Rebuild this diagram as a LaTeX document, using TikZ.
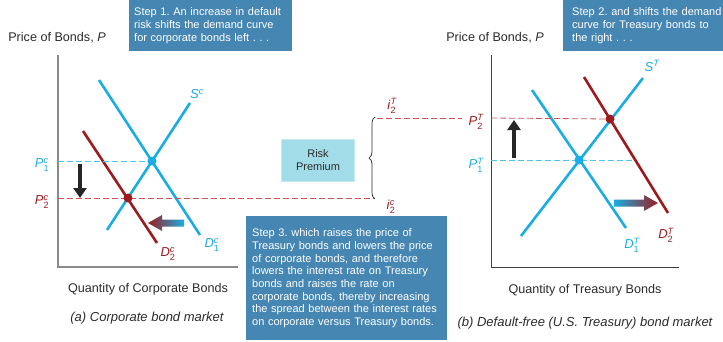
\documentclass[tikz,border=0pt]{standalone}
\usepackage{fontspec}
\setmainfont{Liberation Sans}
\usepackage{amsmath}
\usetikzlibrary{arrows.meta,positioning,decorations.pathreplacing}
\definecolor{BondCyan}   {HTML}{1AADE4}
\definecolor{BondRed}    {HTML}{9B1B1E}
\definecolor{DashRed}    {HTML}{C8545A}
\definecolor{DashCyan}   {HTML}{4FC3EE}
\definecolor{StepBlue}   {HTML}{4686B3}
\definecolor{PremiumCyan}{HTML}{A2DCE8}
\definecolor{AxisGray}   {HTML}{8A8A8A}
\definecolor{InkGray}    {HTML}{2B2B2B}
\frenchspacing
\hyphenpenalty=10000
\exhyphenpenalty=10000
\newcommand{\crv}[3]{\textit{#1}$^{\textit{#3}}_{\textup{#2}}$}
\newcommand{\crvsup}[2]{\textit{#1}$^{\textit{#2}}$}
\tikzset{
  stepbox/.style={rectangle,fill=StepBlue,anchor=north west,inner xsep=6pt,
                  text=white,font=\fontsize{11}{12.7}\selectfont,align=left},
  premiumbox/.style={rectangle,fill=PremiumCyan,draw=PremiumCyan!60!white,
                  minimum width=73pt,minimum height=42pt,align=center,
                  font=\fontsize{11}{13.5}\selectfont,text=InkGray},
  axislbl/.style={font=\fontsize{12.6}{14}\selectfont,text=InkGray},
  caption/.style={font=\fontsize{13}{14}\selectfont\itshape,text=InkGray},
  crvlbl/.style={font=\fontsize{13}{14}\selectfont,text=#1,inner sep=1pt},
  axisline/.style={AxisGray,line width=1.4pt},
  curve/.style={#1,line width=2.6pt},
  dashln/.style={#1,line width=0.8pt,dash pattern=on 6pt off 3pt},
  dot/.style={circle,fill=#1,inner sep=0pt,minimum size=9pt},
  movearr/.style={-{Triangle[width=13pt,length=10pt]},line width=4.5pt,color=black!85},
}
\begin{document}
\begin{tikzpicture}[x=1pt,y=-1pt]
  \useasboundingbox (0,0) rectangle (723,341);

  % ---- (a) corporate bond market
  \coordinate (aO) at (58,267);
  \coordinate (aTop) at (58,55);
  \coordinate (aRight) at (238,267);
  \draw[axisline] (aTop) -- (aO) -- (aRight);
  \node[axislbl] (aPrice) at (57,38) {Price of Bonds, \textit{P}};
  \node[axislbl] (aQty) at (148,289) {Quantity of Corporate Bonds};
  \node[caption] (aCap) at (147,318) {(a) Corporate bond market};

  \coordinate (dOneA) at (99,80);   \coordinate (dOneB) at (200,235);
  \coordinate (sCA)   at (107,230); \coordinate (sCB)   at (190,103);
  \coordinate (dTwoA) at (83,131);  \coordinate (dTwoB) at (157,243);
  \draw[curve=BondCyan] (dOneA) -- (dOneB);
  \draw[curve=BondCyan] (sCA) -- (sCB);
  \draw[curve=BondRed]  (dTwoA) -- (dTwoB);

  \coordinate (pOneC) at (58,161);
  \coordinate (pTwoC) at (58,198);
  \coordinate (iTwoC) at (375,198);
  \draw[dashln=DashCyan] (pOneC) -- (152,161);
  \draw[dashln=DashRed]  (pTwoC) -- (iTwoC);
  \node[dot=BondCyan] (eqC1) at (152,161) {};
  \node[dot=BondRed]  (eqC2) at (128,198) {};

  \node[crvlbl=BondCyan] (lblSc)  at (197,94)  {\crvsup{S}{c}};
  \node[crvlbl=BondCyan] (lblD1c) at (212,245) {\crv{D}{1}{c}};
  \node[crvlbl=BondRed]  (lblD2c) at (168,254) {\crv{D}{2}{c}};
  \node[crvlbl=BondCyan] (lblP1c) at (42,165)  {\crv{P}{1}{c}};
  \node[crvlbl=BondRed]  (lblP2c) at (42,202)  {\crv{P}{2}{c}};

  \coordinate (aDownA) at (80,164);
  \coordinate (aDownB) at (80,198);
  \draw[movearr] (aDownA) -- (aDownB);
  \shade[left color=BondRed,right color=BondCyan]
    (148,223) -- (162,215) -- (162,219.5) -- (184,219.5)
    -- (184,226.5) -- (162,226.5) -- (162,231) -- cycle;

  % ---- risk premium
  \node[premiumbox] (premium) at (318,160) {Risk\\Premium};
  \coordinate (iTwoT) at (377,118);
  \draw[decorate,decoration={brace,amplitude=6pt},line width=0.7pt,InkGray]
    (375,199) -- (375,117);
  \node[crvlbl=BondRed] (lblI2T) at (392,106) {\crv{i}{2}{T}};
  \node[crvlbl=BondRed] (lblI2c) at (391,207) {\crv{i}{2}{c}};

  % ---- (b) treasury bond market
  \coordinate (bO) at (491,267);
  \coordinate (bTop) at (491,55);
  \coordinate (bRight) at (679,267);
  \draw[axisline,black!75,line width=0.9pt] (bTop) -- (bO) -- (bRight);
  \node[axislbl] (bPrice) at (495,38) {Price of Bonds, \textit{P}};
  \node[axislbl] (bQty) at (585,290) {Quantity of Treasury Bonds};
  \node[caption] (bCap) at (585,323) {(b) Default-free (U.S. Treasury) bond market};

  \coordinate (sTA)   at (643,78);  \coordinate (sTB)   at (521,236);
  \coordinate (dTOneA) at (532,90); \coordinate (dTOneB) at (626,228);
  \coordinate (dTTwoA) at (584,77); \coordinate (dTTwoB) at (668,213);
  \draw[curve=BondCyan] (sTA) -- (sTB);
  \draw[curve=BondCyan] (dTOneA) -- (dTOneB);
  \draw[curve=BondRed]  (dTTwoA) -- (dTTwoB);

  \coordinate (pTwoTgap) at (462,118);
  \coordinate (pTwoT) at (491,118);
  \coordinate (pOneT) at (491,160);
  \coordinate (pOneTend) at (634,160);
  \draw[dashln=DashRed]  (iTwoT) -- (pTwoTgap);
  \draw[dashln=DashRed]  (pTwoT) -- (610,119);
  \draw[dashln=DashCyan] (pOneT) -- (pOneTend);
  \node[dot=BondCyan] (eqT1) at (579,160) {};
  \node[dot=BondRed]  (eqT2) at (610,119) {};

  \node[crvlbl=BondCyan] (lblST)  at (652,66)  {\crvsup{S}{T}};
  \node[crvlbl=BondCyan] (lblD1T) at (632,245) {\crv{D}{1}{T}};
  \node[crvlbl=BondRed]  (lblD2T) at (666,235) {\crv{D}{2}{T}};
  \node[crvlbl=BondRed]  (lblP2T) at (476,122) {\crv{P}{2}{T}};
  \node[crvlbl=BondCyan] (lblP1T) at (476,165) {\crv{P}{1}{T}};

  \coordinate (bUpA) at (514,158);
  \coordinate (bUpB) at (514,120);
  \draw[movearr] (bUpA) -- (bUpB);
  \shade[left color=BondCyan,right color=BondRed]
    (658,203) -- (644,195) -- (644,199.5) -- (614,199.5)
    -- (614,206.5) -- (644,206.5) -- (644,211) -- cycle;

  % ---- steps
  \node[stepbox,inner xsep=5pt,text width=153pt,minimum height=51pt] (stepOne) at (129,0)
    {Step 1. An increase in default\\risk shifts the demand curve\\for corporate bonds left . . .};
  \node[stepbox,inner xsep=9pt,text width=152pt,minimum height=51pt] (stepTwo) at (563,0)
    {Step 2. and shifts the demand\\curve for Treasury bonds to\\the right . . .};
  \node[stepbox,text width=189pt,minimum height=124pt] (stepThree) at (246,216)
    {Step 3. which raises the price of\\Treasury bonds and lowers the price\\
     of corporate bonds, and therefore\\lowers the interest rate on Treasury\\
     bonds and raises the rate on\\corporate bonds, thereby increasing\\
     the spread between the interest rates\\on corporate versus Treasury bonds.};

\end{tikzpicture}
\end{document}
